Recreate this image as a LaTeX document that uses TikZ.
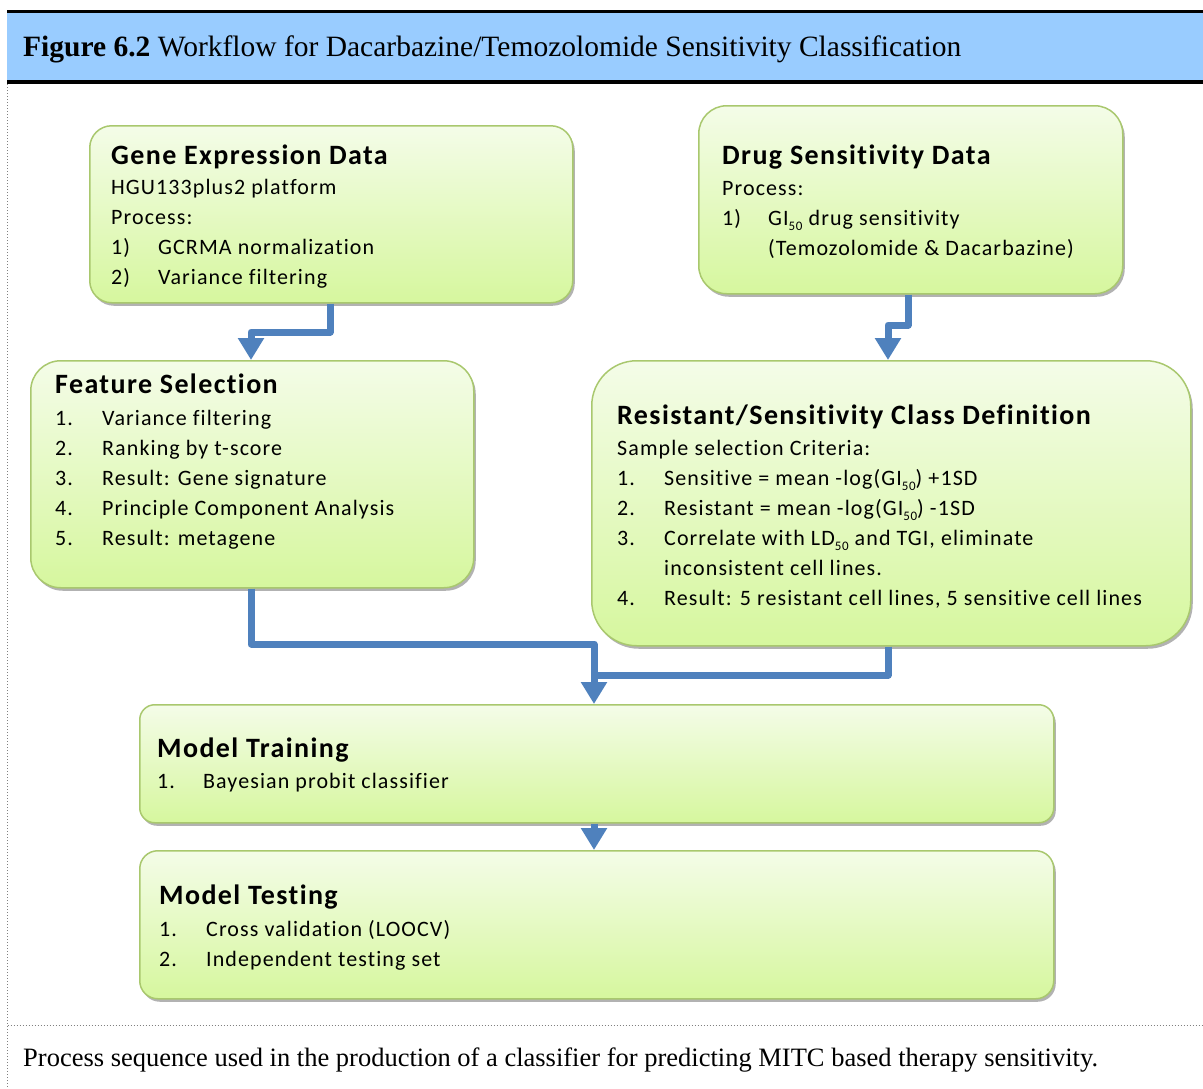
\documentclass[tikz,border=0pt]{standalone}
\usepackage{fontspec}
\setmainfont{Liberation Serif}
\newfontfamily\carl{Carlito}[LetterSpace=5, Ligatures={NoCommon}]
\usetikzlibrary{arrows.meta,shadows,calc}
\definecolor{hdr}{HTML}{99CCFF}
\definecolor{arr}{HTML}{4F81BD}
\definecolor{bxtop}{HTML}{F4FCE8}
\definecolor{bxbot}{HTML}{D6F79E}
\definecolor{bxline}{HTML}{A9C86E}
\newcommand\mysub[1]{\raisebox{-0.25em}{\fontsize{13}{13}\selectfont #1}}
\tikzset{
 box/.style={draw=bxline, line width=1.5pt, top color=bxtop, bottom color=bxbot,
   drop shadow={shadow xshift=2pt, shadow yshift=-3pt, opacity=0.3, fill=black},
   anchor=north west, inner sep=0pt},
 ttl/.style={anchor=base west, inner sep=0pt, font=\carl\bfseries\fontsize{28}{30}\selectfont},
 txt/.style={anchor=base west, inner sep=0pt, font=\carl\fontsize{22}{26}\selectfont},
 flow/.style={draw=arr, line width=7pt, line join=round, -{Triangle[width=25pt,length=22pt]}},
 link/.style={draw=arr, line width=7pt, line join=round},
}
\begin{document}
\begin{tikzpicture}[x=1pt,y=-1pt]
\useasboundingbox (0,0) rectangle (1203,1088);
% header
\fill[hdr] (7,12) rectangle (1203,82);
\draw[line width=3pt] (7,11.5) -- (1203,11.5);
\draw[line width=4pt] (7,82) -- (1203,82);
\draw[gray, dotted, line width=1pt] (7.5,84) -- (7.5,1088);
\draw[gray, dotted, line width=1pt] (7.5,1025) -- (1203,1025);
\node[anchor=base west, inner sep=0pt, font=\fontsize{29.5}{30}\selectfont] (head) at (23,56)
  {\textbf{Figure 6.2} Workflow for Dacarbazine/Temozolomide Sensitivity Classification};
\node[anchor=base west, inner sep=0pt, font=\fontsize{26.5}{30}\selectfont] (cap) at (23,1066)
  {Process sequence used in the production of a classifier for predicting MITC based therapy sensitivity.};

% boxes
\node[box, rounded corners=22pt, minimum width=483pt, minimum height=177pt] (gene) at (89,125) {};
\node[box, rounded corners=28pt, minimum width=424pt, minimum height=188pt] (drug) at (698,105) {};
\node[box, rounded corners=30pt, minimum width=443pt, minimum height=227pt] (feat) at (30,360) {};
\node[box, rounded corners=45pt, minimum width=599pt, minimum height=285pt] (res) at (591,360) {};
\node[box, rounded corners=15pt, minimum width=914pt, minimum height=118pt] (train) at (139,704) {};
\node[box, rounded corners=18pt, minimum width=914pt, minimum height=148pt] (test) at (139,850) {};

% gene text
\node[ttl] (g0) at (111,164) {Gene Expression Data};
\node[txt] (g1) at (111,194) {HGU133plus2 platform};
\node[txt] (g2) at (111,224) {Process:};
\node[txt] (g3n) at (111,254) {1)};
\node[txt] (g3) at (158,254) {GCRMA normalization};
\node[txt] (g4n) at (111,284) {2)};
\node[txt] (g4) at (158,284) {Variance filtering};

% drug text
\node[ttl] (d0) at (722,164) {Drug Sensitivity Data};
\node[txt] (d1) at (722,195) {Process:};
\node[txt] (d2n) at (722,225) {1)};
\node[txt] (d2) at (768,225) {GI\mysub{50} drug sensitivity};
\node[txt] (d3) at (768,255) {(Temozolomide \& Dacarbazine)};

% feature text
\node[ttl] (f0) at (55,393) {Feature Selection};
\node[txt] (f1n) at (55,425) {1.};
\node[txt] (f1) at (102,425) {Variance filtering};
\node[txt] (f2n) at (55,455) {2.};
\node[txt] (f2) at (102,455) {Ranking by t-score};
\node[txt] (f3n) at (55,485) {3.};
\node[txt] (f3) at (102,485) {Result: Gene signature};
\node[txt] (f4n) at (55,515) {4.};
\node[txt] (f4) at (102,515) {Principle Component Analysis};
\node[txt] (f5n) at (55,545) {5.};
\node[txt] (f5) at (102,545) {Result: metagene};

% resistant text
\node[ttl] (r0) at (617,424) {Resistant/Sensitivity Class Definition};
\node[txt] (r1) at (617,455) {Sample selection Criteria:};
\node[txt] (r2n) at (617,485) {1.};
\node[txt] (r2) at (664,485) {Sensitive = mean -log(GI\mysub{50}) +1SD};
\node[txt] (r3n) at (617,515) {2.};
\node[txt] (r3) at (664,515) {Resistant = mean -log(GI\mysub{50}) -1SD};
\node[txt] (r4n) at (617,545) {3.};
\node[txt] (r4) at (664,545) {Correlate with LD\mysub{50} and TGI, eliminate};
\node[txt] (r5) at (664,575) {inconsistent cell lines.};
\node[txt] (r6n) at (617,605) {4.};
\node[txt] (r6) at (664,605) {Result: 5 resistant cell lines, 5 sensitive cell lines};

% training text
\node[ttl] (t0) at (157,757) {Model Training};
\node[txt] (t1n) at (157,788) {1.};
\node[txt] (t1) at (203,788) {Bayesian probit classifier};

% testing text
\node[ttl] (s0) at (159,904) {Model Testing};
\node[txt] (s1n) at (159,936) {1.};
\node[txt] (s1) at (206,936) {Cross validation (LOOCV)};
\node[txt] (s2n) at (159,966) {2.};
\node[txt] (s2) at (206,966) {Independent testing set};

% connectors
\draw[flow] (gene.south -| 330,0) -- (330,332) -- (251,332) -- (feat.north -| 251,0);
\draw[flow] (drug.south -| 908,0) -- (908,325) -- (888,325) -- (res.north -| 888,0);
\draw[link] (res.south -| 888,0) -- (888,675) -- (594,675);
\draw[flow] (feat.south -| 251,0) -- (251,644) -- (594,644) -- (train.north -| 594,0);
\draw[flow] (train.south -| 594,0) -- (test.north -| 594,0);
\end{tikzpicture}
\end{document}
